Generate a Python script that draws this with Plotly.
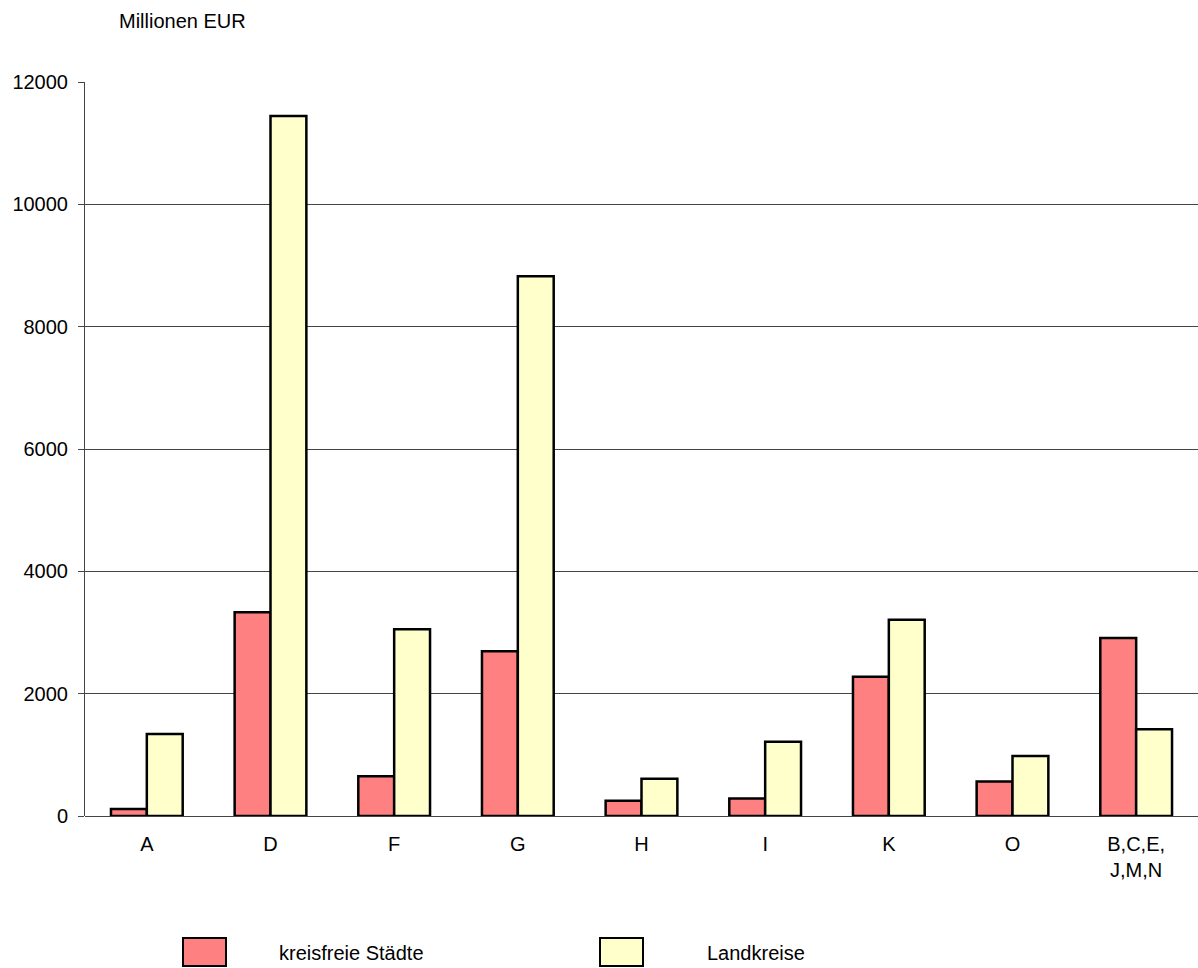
import plotly.graph_objects as go

categories = ["A", "D", "F", "G", "H", "I", "K", "O", "B,C,E,<br>J,M,N"]
kreisfreie_staedte = [115, 3330, 650, 2695, 250, 285, 2275, 565, 2910]
landkreise = [1340, 11445, 3055, 8825, 610, 1215, 3210, 980, 1420]
series_names = ["kreisfreie Städte", "Landkreise"]
y_ticks = [0, 2000, 4000, 6000, 8000, 10000, 12000]

RED = "#FF8080"
YELLOW = "#FFFFCC"
FONT = "Liberation Sans, Arial, sans-serif"
FS = 20

fig = go.Figure()
fig.add_trace(go.Bar(x=categories, y=kreisfreie_staedte, name=series_names[0],
                     marker=dict(color=RED, line=dict(color="black", width=2.5))))
fig.add_trace(go.Bar(x=categories, y=landkreise, name=series_names[1],
                     marker=dict(color=YELLOW, line=dict(color="black", width=2.5))))

W, H = 1198, 968
L, R, T, B = 85, 0, 82, 152
pw, ph = W - L - R, H - T - B

def px(x):
    return (x - L) / pw

def py(y):
    return (H - B - y) / ph

fig.update_layout(
    width=W, height=H,
    margin=dict(l=L, r=R, t=T, b=B),
    paper_bgcolor="white", plot_bgcolor="white",
    font=dict(family=FONT, size=FS, color="black"),
    barmode="group", bargap=0.42, bargroupgap=0,
    showlegend=False,
    xaxis=dict(showgrid=False, ticks="", ticklabelstandoff=14,
               showline=False, zeroline=False, tickfont=dict(size=FS)),
    yaxis=dict(range=[0, 12000], tickvals=y_ticks, tickformat="d",
               showgrid=True,
               gridcolor="#444444", gridwidth=1, showline=True,
               linecolor="#444444", linewidth=1, ticks="outside",
               ticklen=6, tickcolor="#444444", zeroline=True,
               zerolinecolor="#444444", zerolinewidth=1,
               ticklabelstandoff=6, tickfont=dict(size=FS)),
)

fig.add_annotation(text="Millionen EUR", xref="paper", yref="paper",
                   x=px(117), y=py(21), xanchor="left", yanchor="middle",
                   showarrow=False, font=dict(size=FS))

# legend drawn at bottom
legend_items = [(183, 226, 277, RED, series_names[0]),
                (600, 643, 705, YELLOW, series_names[1])]
for x0, x1, tx, col, name in legend_items:
    fig.add_shape(type="rect", xref="paper", yref="paper",
                  x0=px(x0), x1=px(x1), y0=py(966), y1=py(938),
                  fillcolor=col, line=dict(color="black", width=2))
    fig.add_annotation(text=name, xref="paper", yref="paper",
                       x=px(tx), y=py(953), xanchor="left", yanchor="middle",
                       showarrow=False, font=dict(size=FS))

fig.write_html("out.html", config={"displayModeBar": False},
               post_script="document.body.style.margin='0';document.body.style.overflow='hidden';")
